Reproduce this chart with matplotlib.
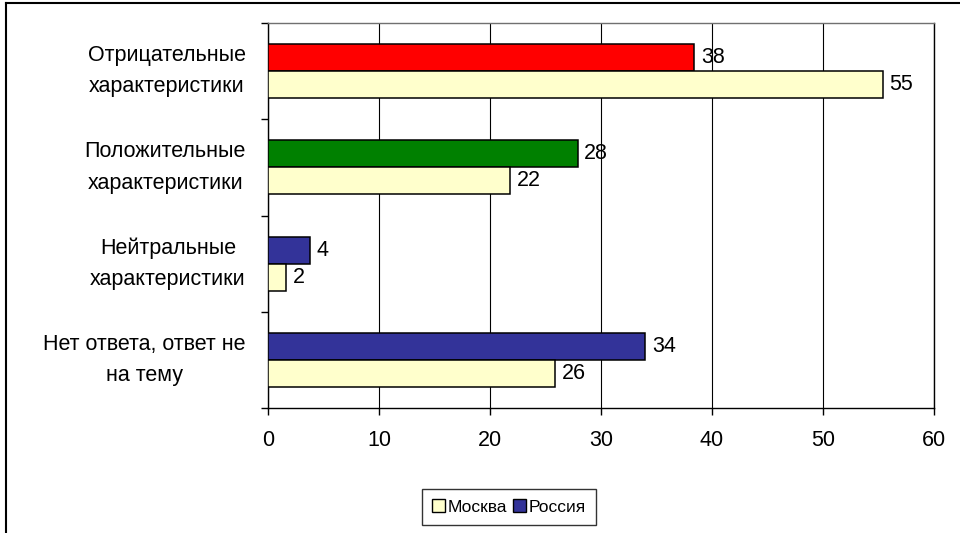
import numpy as np
import matplotlib.pyplot as plt
from matplotlib.lines import Line2D
from matplotlib.patches import Patch

plt.rcParams['font.family'] = ['Liberation Sans', 'DejaVu Sans']

categories = ["Отрицательные\nхарактеристики",
              "Положительные\nхарактеристики",
              "Нейтральные\nхарактеристики",
              "Нет ответа, ответ не\nна тему"]
russia = [38.4, 27.9, 3.8, 34.0]
moscow = [55.4, 21.8, 1.6, 25.9]
russia_labels = ["38", "28", "4", "34"]
moscow_labels = ["55", "22", "2", "26"]
russia_colors = ["#FF0000", "#008000", "#333399", "#333399"]
moscow_color = "#FFFFCC"

fig = plt.figure(figsize=(9.6, 5.33), dpi=100)
ax = fig.add_axes([268 / 960, 1 - 408 / 533, 666 / 960, 385 / 533])

y = np.arange(len(categories))
h = 0.28
ax.barh(y - h / 2, russia, height=h, color=russia_colors, edgecolor="black", linewidth=1.1, zorder=3)
ax.barh(y + h / 2, moscow, height=h, color=moscow_color, edgecolor="black", linewidth=1.1, zorder=3)

for yi, v, s in zip(y, russia, russia_labels):
    ax.text(v + 0.6, yi - h / 2, s, va="center", ha="left", fontsize=15.5, zorder=4)
for yi, v, s in zip(y, moscow, moscow_labels):
    ax.text(v + 0.6, yi + h / 2, s, va="center", ha="left", fontsize=15.5, zorder=4)

ax.set_xlim(0, 60)
ax.set_ylim(len(categories) - 0.5, -0.5)
ax.set_xticks(range(0, 61, 10))
ax.tick_params(axis="x", labelsize=15.5, length=5, width=1, pad=11, direction="out")
ax.grid(axis="x", color="black", linewidth=0.8, zorder=0)

ax.set_yticks(np.arange(-0.5, len(categories), 1.0))
ax.set_yticklabels([])
ax.tick_params(axis="y", which="major", length=5, width=1, direction="out")
ax.set_yticks(y, minor=True)
ax.set_yticklabels(categories, minor=True, fontsize=15.5, linespacing=1.65, ha="right")
for t in ax.get_yticklabels(minor=True):
    t.set_multialignment("center")
    t.set_verticalalignment("center")
ax.tick_params(axis="y", which="minor", length=0, pad=16)

for side in ["left", "bottom", "right"]:
    ax.spines[side].set_color("black")
    ax.spines[side].set_linewidth(1.0)
ax.spines["top"].set_color("#707070")
ax.spines["top"].set_linewidth(1.0)

handles = [Patch(facecolor=moscow_color, edgecolor="black", linewidth=1.0, label="Москва"),
           Patch(facecolor="#333399", edgecolor="black", linewidth=1.0, label="Россия")]
leg = fig.legend(handles=handles, loc="center", bbox_to_anchor=(509 / 960, 1 - 507 / 533),
                 ncol=2, fontsize=12.5, frameon=True, fancybox=False, shadow=False,
                 handlelength=0.75, handleheight=0.75, handletextpad=0.15, columnspacing=0.3,
                 borderpad=0.6, borderaxespad=0)
leg.get_frame().set_edgecolor("black")
leg.get_frame().set_linewidth(1.0)

# outer border (only top and left visible in the original)
fig.add_artist(Line2D([6 / 960, 1], [1 - 3 / 533, 1 - 3 / 533], color="black", linewidth=1.5))
fig.add_artist(Line2D([6 / 960, 6 / 960], [0, 1 - 3 / 533], color="black", linewidth=1.5))

fig.savefig("out.png", dpi=100)
